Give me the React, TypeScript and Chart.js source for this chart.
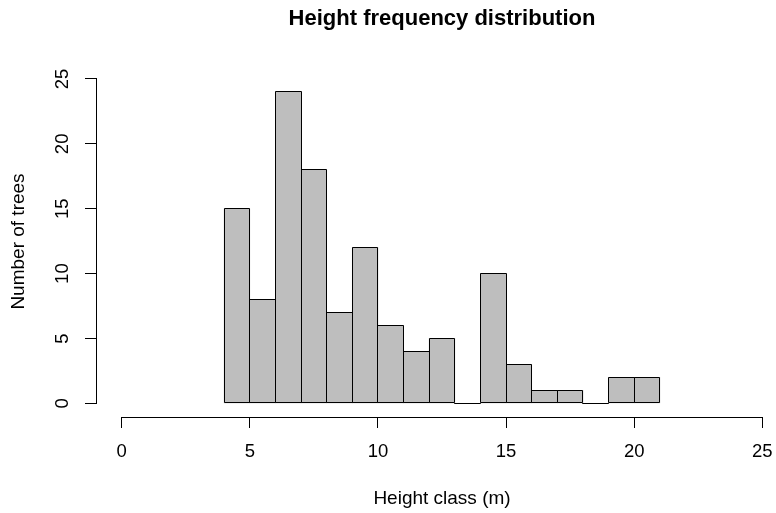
import React, { useEffect, useRef } from "react";
import { Chart, registerables } from "chart.js";

Chart.register(...registerables);

// ---- data ----
const binStarts = [4, 5, 6, 7, 8, 9, 10, 11, 12, 13, 14, 15, 16, 17, 18, 19, 20];
const binEnds = [5, 6, 7, 8, 9, 10, 11, 12, 13, 14, 15, 16, 17, 18, 19, 20, 21];
const counts = [15, 8, 24, 18, 7, 12, 6, 4, 5, 0, 10, 3, 1, 1, 0, 2, 2];
const xTickValues = [0, 5, 10, 15, 20, 25];
const yTickValues = [0, 5, 10, 15, 20, 25];
const chartTitle = "Height frequency distribution";
const xAxisTitle = "Height class (m)";
const yAxisTitle = "Number of trees";

const FONT = "'Liberation Sans', Arial, Helvetica, sans-serif";

const alignPx = (p: number) => Math.round(p - 0.5) + 0.5;

const rAxesPlugin = {
  id: "rStyleAxesAndOutlines",
  afterDatasetsDraw(chart: any) {
    const ctx = chart.ctx;
    const xs = chart.scales.x;
    const ys = chart.scales.y;
    const area = chart.chartArea;
    ctx.save();
    ctx.strokeStyle = "#000";
    ctx.lineWidth = 1;
    // bar outlines (including zero-height bins, drawn as a flat line)
    const meta = chart.getDatasetMeta(0);
    meta.data.forEach((bar: any) => {
      const { x, y, base, width } = bar.getProps(["x", "y", "base", "width"], true);
      const l = alignPx(x - width / 2);
      const r = alignPx(x + width / 2);
      const t = alignPx(y);
      const b = alignPx(base);
      ctx.beginPath();
      ctx.rect(l, t, r - l, b - t);
      ctx.stroke();
    });
    // axis lines, spanning first to last tick (R style)
    const xa = alignPx(xs.getPixelForValue(xTickValues[0]));
    const xb = alignPx(xs.getPixelForValue(xTickValues[xTickValues.length - 1]));
    const yLine = alignPx(area.bottom);
    ctx.beginPath();
    ctx.moveTo(xa - 0.5, yLine);
    ctx.lineTo(xb + 0.5, yLine);
    ctx.stroke();
    const ya = alignPx(ys.getPixelForValue(yTickValues[0]));
    const yb = alignPx(ys.getPixelForValue(yTickValues[yTickValues.length - 1]));
    const xLine = alignPx(area.left);
    ctx.beginPath();
    ctx.moveTo(xLine, ya + 0.5);
    ctx.lineTo(xLine, yb - 0.5);
    ctx.stroke();
    ctx.restore();
  },
};

export default function App() {
  const canvasRef = useRef<HTMLCanvasElement | null>(null);

  useEffect(() => {
    document.body.style.margin = "0";
    const canvas = canvasRef.current;
    if (!canvas) return;
    Chart.defaults.font.family = FONT;
    Chart.defaults.color = "#000";

    const data = counts.map((c, i) => ({ x: (binStarts[i] + binEnds[i]) / 2, y: c }));

    const chart = new Chart(canvas, {
      type: "bar",
      data: {
        datasets: [
          {
            data: data as any,
            backgroundColor: "#BEBEBE",
            borderWidth: 0,
            barPercentage: 1,
            categoryPercentage: 1,
          },
        ],
      },
      options: {
        responsive: false,
        animation: false,
        devicePixelRatio: 1,
        layout: { padding: 0 },
        plugins: {
          legend: { display: false },
          tooltip: { enabled: false },
          title: {
            display: true,
            text: chartTitle,
            fullSize: false,
            color: "#000",
            font: { size: 22, weight: "bold", family: FONT },
            padding: { top: 6.0, bottom: 33.6 },
          },
        },
        scales: {
          x: {
            type: "linear",
            offset: false,
            min: -1,
            max: 26,
            afterBuildTicks: (scale: any) => {
              scale.ticks = xTickValues.map((v) => ({ value: v }));
            },
            afterFit: (scale: any) => {
              scale.height = 96;
              scale.paddingLeft = 0;
              scale.paddingRight = 0;
              scale.paddingTop = 0;
              scale.paddingBottom = 0;
            },
            grid: {
              display: true,
              offset: false,
              drawOnChartArea: false,
              drawTicks: true,
              tickLength: 11,
              color: "#000",
              lineWidth: 1,
            },
            border: { display: false },
            ticks: {
              autoSkip: false,
              maxRotation: 0,
              minRotation: 0,
              padding: 13.2,
              color: "#000",
              font: { size: 18.5, family: FONT },
              callback: (v: any) => String(v),
            },
            title: {
              display: true,
              text: xAxisTitle,
              color: "#000",
              font: { size: 19, family: FONT },
              padding: { top: 0, bottom: 2.8 },
            },
          },
          y: {
            type: "linear",
            min: -1.05,
            max: 26,
            afterBuildTicks: (scale: any) => {
              scale.ticks = yTickValues.map((v) => ({ value: v }));
            },
            afterFit: (scale: any) => {
              scale.width = 96;
              scale.paddingLeft = 0;
              scale.paddingRight = 0;
              scale.paddingTop = 0;
              scale.paddingBottom = 0;
            },
            grid: {
              display: true,
              drawOnChartArea: false,
              drawTicks: true,
              tickLength: 11,
              color: "#000",
              lineWidth: 1,
            },
            border: { display: false },
            ticks: {
              autoSkip: false,
              minRotation: 90,
              maxRotation: 90,
              crossAlign: "center",
              padding: 11.7,
              color: "#000",
              font: { size: 18.5, family: FONT },
              callback: (v: any) => String(v),
            },
            title: {
              display: true,
              text: yAxisTitle,
              color: "#000",
              font: { size: 19, family: FONT },
              padding: { top: 6.9, bottom: 0 },
            },
          },
        },
      },
      plugins: [rAxesPlugin],
    } as any);

    return () => {
      chart.destroy();
    };
  }, []);

  return (
    <div style={{ width: 776, height: 513, overflow: "hidden", background: "#fff" }}>
      <canvas ref={canvasRef} width={788} height={513} style={{ display: "block" }} />
    </div>
  );
}
